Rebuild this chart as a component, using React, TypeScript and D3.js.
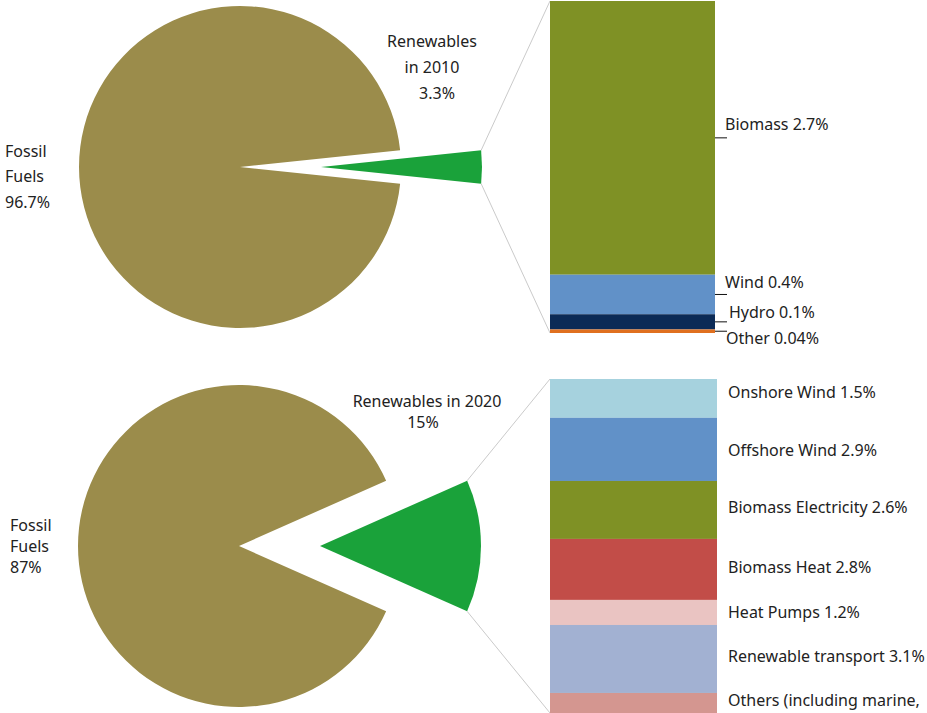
import { arc, cumsum, pie, scaleLinear, sum } from 'd3'
import type { PieArcDatum } from 'd3'

// pie shares
const pieNames = ['Renewables', 'Fossil Fuels']
const pie2010 = [3.3, 96.7]
const pie2020 = [13.3, 86.7]

// breakdown bars
const bar2010Names = ['Biomass', 'Wind', 'Hydro', 'Other']
const bar2010Values = [2.7, 0.39, 0.15, 0.035]
const bar2010Labels = ['Biomass 2.7%', 'Wind 0.4%', 'Hydro 0.1%', 'Other 0.04%']

const bar2020Names = [
  'Onshore Wind',
  'Offshore Wind',
  'Biomass Electricity',
  'Biomass Heat',
  'Heat Pumps',
  'Renewable transport',
  'Others',
]
const bar2020Values = [1.78, 2.9, 2.66, 2.8, 1.15, 3.12, 0.92]
const bar2020Labels = [
  'Onshore Wind 1.5%',
  'Offshore Wind 2.9%',
  'Biomass Electricity 2.6%',
  'Biomass Heat 2.8%',
  'Heat Pumps 1.2%',
  'Renewable transport 3.1%',
  'Others (including marine,',
]

const colors2010 = ['#7f9125', '#6191c8', '#0b2a56', '#e0701f']
const colors2020 = ['#a6d2de', '#6191c8', '#7f9125', '#c24d48', '#eac4c2', '#a2b1d2', '#d49690']

const fossilColor = '#9b8c4b'
const greenColor = '#1aa23a'
const textColor = '#222'
const font = '"Noto Sans", sans-serif'

const width = 927
const height = 713
const radius = 161
const explode = 81

interface PanelProps {
  label: string
  cx: number
  cy: number
  shares: number[]
  barNames: string[]
  barValues: number[]
  barColors: string[]
  barTop: number
  barBottom: number
  barX: number
  barW: number
}

const Panel = ({ label, cx, cy, shares, barNames, barValues, barColors, barTop, barBottom, barX, barW }: PanelProps) => {
  const total = sum(shares)
  const wedge = (2 * Math.PI * shares[0]) / total
  const start = Math.PI / 2 - wedge / 2
  const slices = pie<number>()
    .sort(null)
    .startAngle(start)
    .endAngle(start + 2 * Math.PI)(shares)
  const arcGen = arc<PieArcDatum<number>>().innerRadius(0).outerRadius(radius)

  const ren = slices[0]
  const gx = cx + explode
  const corner = (a: number) => ({ x: gx + radius * Math.sin(a), y: cy - radius * Math.cos(a) })
  const upper = corner(ren.startAngle)
  const lower = corner(ren.endAngle)

  const barTotal = sum(barValues)
  const y = scaleLinear().domain([0, barTotal]).range([barTop, barBottom])
  const ends = Array.from(cumsum(barValues))

  return (
    <g aria-label={label}>
      <path d={arcGen(slices[1]) ?? ''} transform={`translate(${cx},${cy})`} fill={fossilColor}>
        <title>{pieNames[1]}</title>
      </path>
      <path d={arcGen(ren) ?? ''} transform={`translate(${gx},${cy})`} fill={greenColor}>
        <title>{pieNames[0]}</title>
      </path>
      <line x1={upper.x} y1={upper.y} x2={barX} y2={y(0)} stroke="#bdbdbd" strokeWidth={0.8} />
      <line x1={lower.x} y1={lower.y} x2={barX} y2={y(barTotal)} stroke="#bdbdbd" strokeWidth={0.8} />
      {barValues.map((v, i) => (
        <rect
          key={barNames[i]}
          x={barX}
          width={barW}
          y={y(ends[i] - v)}
          height={y(ends[i]) - y(ends[i] - v)}
          fill={barColors[i]}
        />
      ))}
    </g>
  )
}

const App = () => {
  const top = scaleLinear().domain([0, sum(bar2010Values)]).range([1, 333])
  const ends2010 = Array.from(cumsum(bar2010Values))
  const mids2010 = bar2010Values.map((v, i) => top(ends2010[i] - v / 2))
  const label2010Offsets = [
    { dx: 10, dy: -13 },
    { dx: 10, dy: -12 },
    { dx: 14, dy: -9 },
    { dx: 11, dy: 7 },
  ]

  const bottom = scaleLinear().domain([0, sum(bar2020Values)]).range([379, 713])
  const ends2020 = Array.from(cumsum(bar2020Values))
  const mids2020 = bar2020Values.map((v, i) => bottom(ends2020[i] - v / 2))
  const label2020Offsets = [-6, 1, -3, -2, 0, -3, -3]

  return (
    <div style={{ position: 'absolute', left: 0, top: 0 }}>
      <svg width={width} height={height} style={{ display: 'block' }} fontFamily={font} fontSize={16}>
        <Panel
          label="2010"
          cx={240}
          cy={167}
          shares={pie2010}
          barNames={bar2010Names}
          barValues={bar2010Values}
          barColors={colors2010}
          barTop={1}
          barBottom={333}
          barX={550}
          barW={165}
        />
        <Panel
          label="2020"
          cx={239}
          cy={546}
          shares={pie2020}
          barNames={bar2020Names}
          barValues={bar2020Values}
          barColors={colors2020}
          barTop={379}
          barBottom={713}
          barX={550}
          barW={167}
        />

        {/* 2010 bar labels with leader ticks */}
        {bar2010Labels.map((t, i) => (
          <g key={t}>
            <line x1={715} x2={727} y1={mids2010[i]} y2={mids2010[i]} stroke="#111" strokeWidth={1} />
            <text
              x={715 + label2010Offsets[i].dx}
              y={mids2010[i] + label2010Offsets[i].dy}
              dy="0.35em"
              fill={textColor}
            >
              {t}
            </text>
          </g>
        ))}

        {/* 2020 bar labels */}
        {bar2020Labels.map((t, i) => (
          <text key={t} x={728} y={mids2020[i] + label2020Offsets[i]} dy="0.35em" fill={textColor}>
            {t}
          </text>
        ))}

        {/* pie labels */}
        <g fill={textColor}>
          <text x={5} y={151} dy="0.35em">Fossil</text>
          <text x={5} y={176} dy="0.35em">Fuels</text>
          <text x={5} y={202} dy="0.35em">96.7%</text>
          <text x={432} y={41} dy="0.35em" textAnchor="middle">Renewables</text>
          <text x={432} y={67} dy="0.35em" textAnchor="middle">in 2010</text>
          <text x={437} y={93} dy="0.35em" textAnchor="middle">3.3%</text>

          <text x={10} y={525} dy="0.35em">Fossil</text>
          <text x={10} y={546} dy="0.35em">Fuels</text>
          <text x={10} y={567} dy="0.35em">87%</text>
          <text x={427} y={401} dy="0.35em" textAnchor="middle">Renewables in 2020</text>
          <text x={423} y={422} dy="0.35em" textAnchor="middle">15%</text>
        </g>
      </svg>
    </div>
  )
}

export default App
